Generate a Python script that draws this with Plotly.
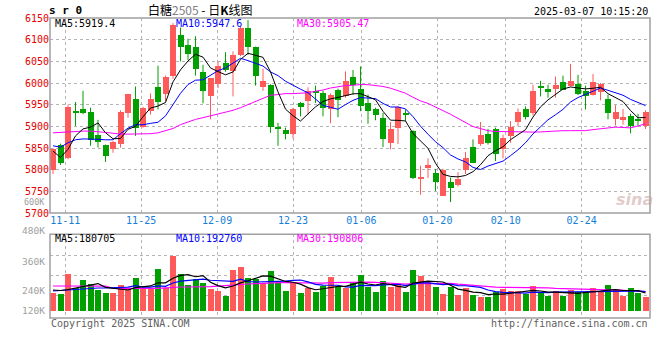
import plotly.graph_objects as go

# ---------------- data ----------------
tick_idx = [2, 12, 22, 32, 41, 51, 60, 70]
tick_labels = ["11-11", "11-25", "12-09", "12-23", "01-06", "01-20", "02-10", "02-24"]

opens = [5800, 5858, 5826, 5934, 5941, 5932, 5879, 5857, 5848, 5859,
         5930, 5962, 5899, 5935, 5990, 5975, 6017, 6111, 6088, 6083,
         6025, 5971, 5998, 6046, 6027, 6065, 6126, 6082, 5990, 5996,
         5897, 5891, 5882, 5954, 5958, 5982, 5978, 5941, 5985, 5969,
         6013, 5987, 5953, 5941, 5920, 5861, 5896, 5930, 5889, 5779,
         5804, 5792, 5740, 5772, 5765, 5800, 5852, 5859, 5883, 5893,
         5848, 5878, 5910, 5941, 5930, 5990, 5986, 5987, 6003, 5994,
         5998, 5982, 5972, 5979, 5964, 5916, 5914, 5923, 5917, 5900]
highs = [5849, 5860, 5949, 5956, 5982, 5943, 5915, 5858, 5866, 5937,
         5975, 5992, 5945, 5976, 6040, 6017, 6138, 6128, 6102, 6108,
         6042, 6012, 6049, 6071, 6073, 6131, 6145, 6084, 6033, 5997,
         5908, 5897, 5943, 5956, 5990, 5994, 5982, 5976, 5987, 6027,
         6030, 6038, 5973, 5943, 5931, 5910, 5946, 5939, 5891, 5809,
         5826, 5801, 5802, 5782, 5794, 5841, 5870, 5910, 5894, 5897,
         5881, 5912, 5941, 5946, 5996, 6005, 5996, 6015, 6017, 6044,
         6019, 5994, 6021, 6000, 5973, 5949, 5940, 5929, 5929, 5937]
lows = [5790, 5811, 5824, 5901, 5928, 5855, 5851, 5818, 5839, 5851,
        5920, 5878, 5897, 5927, 5939, 5958, 6010, 6050, 6053, 6017,
        5953, 5916, 5988, 6026, 5969, 6062, 6065, 5994, 5982, 5885,
        5855, 5870, 5872, 5923, 5927, 5954, 5923, 5907, 5921, 5966,
        5973, 5935, 5906, 5914, 5852, 5847, 5859, 5912, 5778, 5742,
        5781, 5751, 5739, 5725, 5761, 5790, 5815, 5855, 5858, 5820,
        5826, 5862, 5900, 5916, 5925, 5969, 5966, 5966, 5984, 5992,
        5972, 5939, 5971, 5960, 5916, 5902, 5904, 5884, 5901, 5894]
closes = [5847, 5816, 5944, 5933, 5930, 5868, 5864, 5831, 5864, 5933,
          5974, 5897, 5943, 5964, 5956, 6015, 6135, 6082, 6066, 6033,
          5982, 6011, 6040, 6029, 6065, 6127, 6082, 6017, 6005, 5898,
          5896, 5882, 5941, 5944, 5982, 5976, 5943, 5972, 5961, 6004,
          5995, 5946, 5935, 5926, 5871, 5893, 5944, 5928, 5781, 5784,
          5810, 5772, 5799, 5757, 5779, 5826, 5816, 5879, 5861, 5836,
          5872, 5898, 5933, 5922, 5982, 5989, 5979, 5996, 5985, 6005,
          5975, 5971, 6003, 5998, 5930, 5934, 5921, 5900, 5914, 5933]
volumes = [180000, 167000, 367000, 223000, 307000, 267000, 207000, 180000, 180000, 260000,
           223000, 323000, 223000, 223000, 417000, 223000, 550000, 367000, 257000, 317000,
           280000, 217000, 200000, 147000, 407000, 437000, 323000, 313000, 273000, 397000,
           297000, 197000, 273000, 180000, 223000, 190000, 247000, 333000, 240000, 223000,
           290000, 357000, 240000, 190000, 297000, 240000, 263000, 190000, 407000, 347000,
           290000, 240000, 167000, 240000, 157000, 223000, 157000, 140000, 140000, 190000,
           217000, 200000, 197000, 167000, 247000, 190000, 147000, 197000, 147000, 207000,
           183000, 190000, 223000, 190000, 257000, 207000, 147000, 227000, 180000, 140000]

# moving-average values at the start of the window (they depend on earlier days)
ma5_head = [5843, 5828, 5847, 5878]
ma10_head = [5855, 5852, 5862, 5869, 5871, 5871, 5870, 5869, 5869]
ma30_head = [5885, 5886, 5888, 5889, 5889, 5889, 5888, 5886, 5884, 5882,
             5882, 5882, 5882, 5883, 5885, 5890, 5895, 5904, 5910, 5916,
             5920, 5924, 5929, 5933, 5937, 5943, 5950, 5958, 5964]
vma5_head = [210000, 205000, 215000, 230000]
vma10_head = [200000, 205000, 215000, 220000, 225000, 228000, 230000, 230000, 232000]
vma30_head = [250000, 250000, 250000, 250000, 250000, 250000, 250000, 248000, 226000, 225000,
              225000, 225000, 225000, 225000, 226000, 232000, 238000, 240000, 240000, 240000,
              242000, 244000, 248000, 255000, 260000, 265000, 270000, 273000, 277000]

legend_main = ["MA5:5919.4", "MA10:5947.6", "MA30:5905.47"]
legend_vol = ["MA5:180705", "MA10:192760", "MA30:190806"]
vol_axis_labels = ["600K", "480K", "360K", "240K", "120K"]


def moving_avg(vals, n, head):
    out = list(head)
    for i in range(len(head), len(vals)):
        out.append(sum(vals[i - n + 1:i + 1]) / n)
    return out


N = len(closes)
UP, DOWN = "#ff5a5a", "#00a000"
MA_COLORS = ["#000000", "#0000ff", "#ff00ff"]
MONO = "DejaVu Sans Mono"

xc = [i + 0.4 for i in range(N)]
colors = [UP if c >= o else DOWN for o, c in zip(opens, closes)]
grid_x = [k * 80 / 79 for k in tick_idx]

fig = go.Figure()

# wicks
for col in (UP, DOWN):
    wx, wy = [], []
    for i in range(N):
        if colors[i] == col:
            wx += [xc[i], xc[i], None]
            wy += [lows[i], highs[i], None]
    fig.add_trace(go.Scatter(x=wx, y=wy, mode="lines", line=dict(color=col, width=1),
                             hoverinfo="skip", xaxis="x", yaxis="y"))

# bodies
base = [min(o, c) for o, c in zip(opens, closes)]
height = [max(abs(c - o), 2.3) for o, c in zip(opens, closes)]
fig.add_trace(go.Bar(x=xc, y=height, base=base, width=0.8, marker=dict(color=colors, line=dict(width=0)),
                     xaxis="x", yaxis="y"))

# price MAs
for vals, n, head, col in ((closes, 30, ma30_head, MA_COLORS[2]),
                           (closes, 10, ma10_head, MA_COLORS[1]),
                           (closes, 5, ma5_head, MA_COLORS[0])):
    fig.add_trace(go.Scatter(x=xc, y=moving_avg(vals, n, head), mode="lines",
                             line=dict(color=col, width=1), xaxis="x", yaxis="y"))

# volume bars
fig.add_trace(go.Bar(x=xc, y=volumes, width=0.8, marker=dict(color=colors, line=dict(width=0)),
                     xaxis="x2", yaxis="y2"))
for vals, n, head, col in ((volumes, 30, vma30_head, MA_COLORS[2]),
                           (volumes, 10, vma10_head, MA_COLORS[1]),
                           (volumes, 5, vma5_head, MA_COLORS[0])):
    fig.add_trace(go.Scatter(x=xc, y=moving_avg(vals, n, head), mode="lines",
                             line=dict(color=col, width=1.2), xaxis="x2", yaxis="y2"))

W, H, L, R = 660, 360, 50, 10
PW = W - L - R


def px(xp):
    return (xp - L) / PW


def py(yp):
    return 1 - yp / H


grid_style = dict(showgrid=True, gridcolor="#b4b4b4", gridwidth=1, griddash="dot", zeroline=False,
                  showline=False, ticks="", automargin=False)

fig.update_layout(
    width=W, height=H, autosize=False,
    margin=dict(l=L, r=R, t=0, b=0, pad=0),
    paper_bgcolor="white", plot_bgcolor="white",
    showlegend=False, barmode="overlay", bargap=0,
    xaxis=dict(domain=[0, 1], range=[0, 80], anchor="y", tickvals=grid_x, ticktext=tick_labels,
               tickfont=dict(family=MONO, size=10, color="#1480d8"), **grid_style),
    xaxis2=dict(domain=[0, 1], range=[0, 80], anchor="y2", tickvals=grid_x, showticklabels=False,
                **grid_style),
    yaxis=dict(domain=[py(213), py(18)], range=[5700, 6150], tickvals=list(range(5700, 6151, 50)),
               tickfont=dict(family=MONO, size=10, color="#e60000"), **grid_style),
    yaxis2=dict(domain=[py(318), py(234.3)], range=[-70000, 767000],
                tickvals=[157000, 357000, 557000], showticklabels=False, **grid_style),
)

frame = dict(type="rect", x0=0, x1=1, y0=0, y1=1, line=dict(color="#a0a0a0", width=1.5),
             fillcolor="rgba(0,0,0,0)", layer="above")
fig.add_shape(xref="x domain", yref="y domain", **frame)
fig.add_shape(xref="x2 domain", yref="y2 domain", **frame)

ann = []


def add_text(text, xp, yp, anchor="left", size=10, color="#000", family=MONO):
    ann.append(dict(text=text, x=px(xp), y=py(yp), xref="paper", yref="paper", xanchor=anchor,
                    yanchor="middle", showarrow=False, font=dict(family=family, size=size, color=color)))


add_text("<b>s r 0</b>", 47, 10, size=11)
add_text("白糖<span style='color:#808080'>2505</span> - 日<b>K</b>线图", 200, 9.5, anchor="center",
         size=12, family="Noto Sans CJK SC")
add_text("2025-03-07 10:15:20", 650, 12, anchor="right")
for t, xp, col in zip(legend_main, (53, 174, 295), MA_COLORS):
    add_text(t, xp, 24, color=col)
for t, xp, col in zip(legend_vol, (53, 174, 295), MA_COLORS):
    add_text(t, xp, 238.5, color=col)
for t, yp, fs in zip(vol_axis_labels, (201.5, 230.5, 261, 290.5, 310), (8.5, 9.5, 9.5, 9.5, 9.5)):
    add_text(t, 47, yp, anchor="right", size=fs, color="#a0a0a0")
add_text("Copyright 2025 SINA.COM", 49, 323.5, color="#606060")
add_text("http://finance.sina.com.cn", 650, 323.5, anchor="right", color="#606060")
add_text("<b><i>sina</i></b>", 634, 199, anchor="center", size=16, color="rgba(200,160,160,0.55)",
         family="DejaVu Sans")
fig.update_layout(annotations=ann)

fig.write_html(
    "out.html",
    config={"displayModeBar": False},
    post_script="document.documentElement.style.margin='0';document.body.style.margin='0';"
                "document.body.style.padding='0';document.body.style.overflow='hidden';",
)
